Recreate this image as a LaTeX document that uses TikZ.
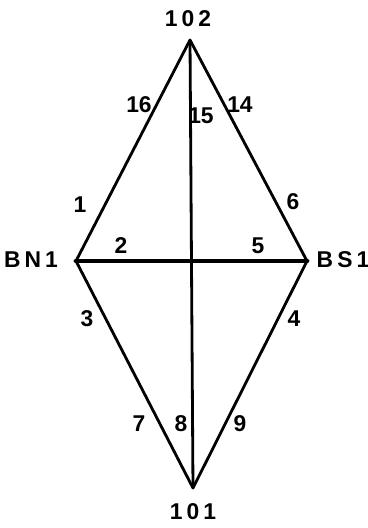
\documentclass[tikz,border=0pt]{standalone}
\usepackage{fontspec}
\setmainfont{Liberation Sans}
\newfontfamily\plotfont[LetterSpace=18]{Liberation Sans}
\usepackage{tikz}
\usetikzlibrary{positioning, calc}

\tikzset{
	station/.style={inner sep=0pt, font=\plotfont\bfseries\fontsize{13}{15}\selectfont},
	obs/.style={inner sep=0pt, font=\bfseries\fontsize{13}{15}\selectfont},
	leg/.style={line width=1.6pt, line cap=round},
	base/.style={line width=2.8pt, line cap=round}
}

\begin{document}
\begin{tikzpicture}[x=0.02cm, y=-0.02cm]
	\useasboundingbox (0,0) rectangle (368,528);
	% Punti della rete
	\coordinate (P102) at (190,40);
	\coordinate (BN) at (76,261);
	\coordinate (BS) at (307,261);
	\coordinate (P101) at (193,488);
	% Nomi dei punti
	\node[station] (n102) at (188,19) {102};
	\node[station] (nBN) at (31,260) {BN1};
	\node[station] (nBS) at (343,260) {BS1};
	\node[station] (n101) at (193,512) {101};
	% Lati
	\draw[leg] (P102) -- (BN);
	\draw[leg] (P102) -- (BS);
	\draw[leg] (P102) -- (P101);
	\draw[leg] (BN) -- (P101);
	\draw[leg] (BS) -- (P101);
	\draw[base] (BN) -- (BS);
	% Numeri delle osservazioni
	\node[obs] (o16) at (139,105) {16};
	\node[obs] (o15) at (201,116) {15};
	\node[obs] (o14) at (240,105) {14};
	\node[obs] (o1) at (80,205) {1};
	\node[obs] (o6) at (293,202) {6};
	\node[obs] (o2) at (121,246) {2};
	\node[obs] (o5) at (258,246) {5};
	\node[obs] (o3) at (87,319) {3};
	\node[obs] (o4) at (294,319) {4};
	\node[obs] (o7) at (139,424) {7};
	\node[obs] (o8) at (181,424) {8};
	\node[obs] (o9) at (240,424) {9};
\end{tikzpicture}
\end{document}
